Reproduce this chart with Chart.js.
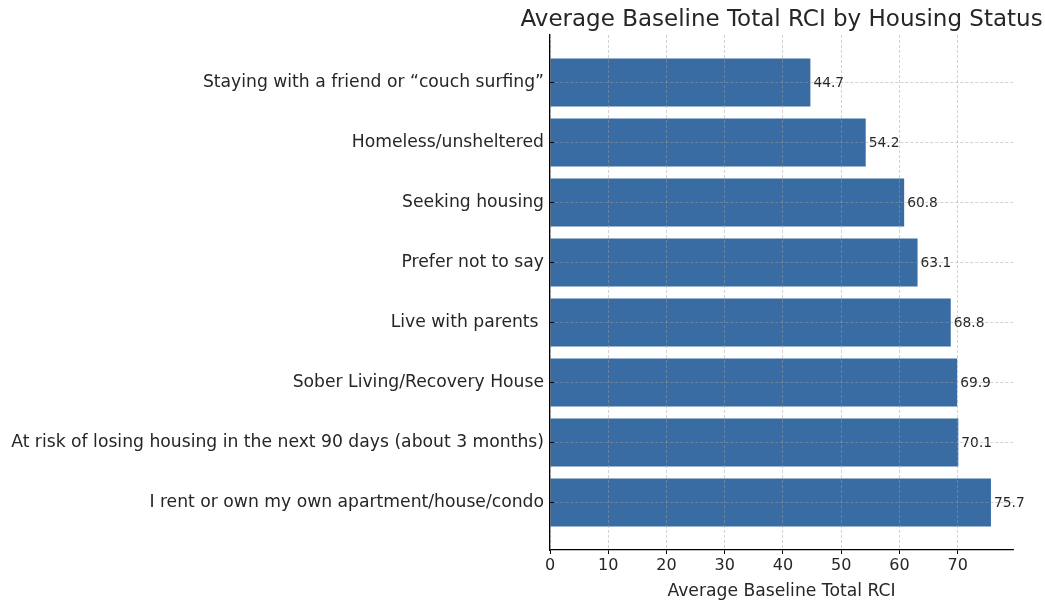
<!DOCTYPE html>
<html>
<head>
<meta charset="utf-8">
<script src="https://cdn.jsdelivr.net/npm/chart.js@4.4.1/dist/chart.umd.min.js"></script>
<style>
  html, body { margin: 0; padding: 0; background: #ffffff; }
  #wrap { width: 1045px; height: 602px; }
</style>
</head>
<body>
<div id="wrap"><canvas id="rciChart" width="1045" height="602"></canvas></div>
<script>
// Housing categories, top to bottom as shown
var housingLabels = [
  "Staying with a friend or \u201ccouch surfing\u201d",
  "Homeless/unsheltered",
  "Seeking housing",
  "Prefer not to say",
  "Live with parents ",
  "Sober Living/Recovery House",
  "At risk of losing housing in the next 90 days (about 3 months)",
  "I rent or own my own apartment/house/condo"
];
var rciValues = [44.7, 54.2, 60.8, 63.1, 68.8, 69.9, 70.1, 75.7];
var xTickValues = [0, 10, 20, 30, 40, 50, 60, 70];
var chartTitle = 'Average Baseline Total RCI by Housing Status';

var barColor = '#386ca3';
var textColor = '#262626';
var gridColor = 'rgba(160,160,160,0.6)';
var fontFamily = "'DejaVu Sans', sans-serif";

// bar value labels at the end of each bar, plus the title over the plot area
var valueLabels = {
  id: 'valueLabels',
  afterDatasetsDraw: function(chart) {
    var ctx = chart.ctx;
    var meta = chart.getDatasetMeta(0);
    ctx.save();
    ctx.font = '13.8px ' + fontFamily;
    ctx.fillStyle = textColor;
    ctx.textAlign = 'left';
    ctx.textBaseline = 'middle';
    meta.data.forEach(function(bar, i) {
      ctx.fillText(rciValues[i].toFixed(1), bar.x + 3, bar.y + 0.5);
    });
    ctx.restore();
  },
  afterDraw: function(chart) {
    var ctx = chart.ctx;
    var area = chart.chartArea;
    ctx.save();
    ctx.font = '23px ' + fontFamily;
    ctx.fillStyle = textColor;
    ctx.textAlign = 'center';
    ctx.textBaseline = 'alphabetic';
    ctx.fillText(chartTitle, (area.left + area.right) / 2, area.top - 9);
    ctx.restore();
  }
};

var points = rciValues.map(function(v, i) {
  return { x: v, y: i };
});

new Chart(document.getElementById('rciChart'), {
  type: 'bar',
  data: {
    datasets: [{
      data: points,
      backgroundColor: barColor,
      borderWidth: 0,
      barPercentage: 1,
      categoryPercentage: 0.8
    }]
  },
  plugins: [valueLabels],
  options: {
    indexAxis: 'y',
    responsive: false,
    animation: false,
    layout: { padding: { left: 0, right: 32, top: 35, bottom: 0 } },
    plugins: {
      legend: { display: false },
      tooltip: { enabled: false },
      title: { display: false }
    },
    scales: {
      x: {
        type: 'linear',
        min: 0,
        max: 79.485,
        afterBuildTicks: function(scale) {
          scale.ticks = xTickValues.map(function(v) { return { value: v }; });
        },
        afterFit: function(scale) { scale.height = 52; },
        ticks: {
          color: textColor,
          font: { family: fontFamily, size: 16 },
          padding: 2,
          maxRotation: 0
        },
        grid: {
          color: gridColor,
          lineWidth: 0.8,
          z: 1,
          tickColor: '#000000',
          tickLength: 4,
          tickWidth: 1
        },
        // border.dash also sets the dash of the grid lines
        border: { display: true, color: '#000000', width: 1.3, dash: [3, 2], z: 2 },
        title: {
          display: true,
          text: 'Average Baseline Total RCI',
          color: textColor,
          font: { family: fontFamily, size: 17.2 },
          padding: { top: 0, bottom: 0 }
        }
      },
      y: {
        type: 'linear',
        reverse: true,
        offset: false,
        min: -0.79,
        max: 7.79,
        afterBuildTicks: function(scale) {
          scale.ticks = housingLabels.map(function(l, i) { return { value: i }; });
        },
        afterFit: function(scale) { scale.width = 550; },
        ticks: {
          color: textColor,
          font: { family: fontFamily, size: 17.2 },
          padding: 10,
          callback: function(value) { return housingLabels[value]; }
        },
        grid: {
          offset: false,
          color: gridColor,
          lineWidth: 0.8,
          z: 1,
          tickColor: '#000000',
          tickLength: -4,
          tickWidth: 1
        },
        border: { display: true, color: '#000000', width: 1.3, dash: [3, 2], z: 2 }
      }
    }
  }
});
</script>
</body>
</html>
